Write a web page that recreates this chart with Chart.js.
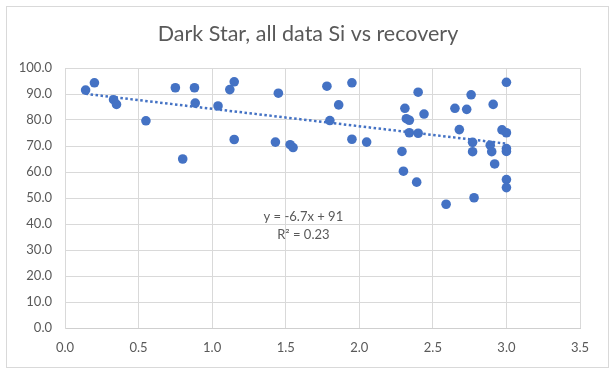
<!DOCTYPE html>
<html>
<head>
<meta charset="utf-8">
<script src="https://cdn.jsdelivr.net/npm/chart.js@4.4.0/dist/chart.umd.min.js"></script>
<style>
  html, body { margin: 0; padding: 0; background: #fff; }
  #wrap { position: relative; width: 615px; height: 372px; }
  #frame {
    position: absolute; left: 6px; top: 6px; width: 603px; height: 362px;
    border: 1px solid #d9d9d9; box-sizing: border-box; pointer-events: none;
  }
</style>
</head>
<body>
<div id="wrap">
  <canvas id="chart"></canvas>
  <div id="frame"></div>
</div>
<script>
  /* ===================== DATA ===================== */

  let siValues = [
    0.14, 0.20, 0.33, 0.35, 0.55, 0.75, 0.80, 0.88, 0.885, 1.04,
    1.12, 1.15, 1.15, 1.45, 1.43, 1.53, 1.55, 1.78, 1.95, 1.86,
    1.80, 1.95, 2.05, 2.31, 2.32, 2.34, 2.40, 2.44, 2.34, 2.40,
    2.29, 2.30, 2.39, 2.59, 3.00, 2.76, 2.65, 2.73, 2.91, 2.68,
    2.97, 3.00, 2.77, 2.77, 2.89, 2.90, 2.92, 3.00, 3.00, 3.00,
    3.00, 2.78
  ];

  let recoveryValues = [
    91.5, 94.3, 87.8, 86.0, 79.7, 92.4, 65.0, 92.4, 86.5, 85.4,
    91.7, 94.7, 72.5, 90.3, 71.5, 70.5, 69.4, 93.0, 94.3, 85.8,
    79.8, 72.6, 71.5, 84.5, 80.5, 79.9, 90.7, 82.3, 75.1, 74.9,
    67.9, 60.3, 56.1, 47.6, 94.5, 89.7, 84.5, 84.1, 86.0, 76.3,
    76.2, 75.1, 71.4, 67.8, 70.3, 67.8, 63.1, 69.0, 67.9, 57.1,
    54.0, 50.1
  ];

  let xTicks = [0, 0.5, 1, 1.5, 2, 2.5, 3, 3.5];
  let yTicks = [0, 10, 20, 30, 40, 50, 60, 70, 80, 90, 100];

  let chartTitle = 'Dark Star, all data Si vs recovery';

  // linear trendline as labelled on the chart
  let trendSlope = -6.7;
  let trendIntercept = 91;
  let trendR2 = 0.23;
  let trendRange = [0.14, 3.0];

  /* ==================== STYLE ==================== */

  let blue = '#4472c4';
  let textGray = '#595959';
  let gridGray = '#d9d9d9';
  let fontName = 'Lato, "Open Sans", sans-serif';

  let points = siValues.map((x, i) => ({ x, y: recoveryValues[i] }));
  let trend = trendRange.map(x => ({ x, y: trendSlope * x + trendIntercept }));

  // title centred on the whole frame (the built-in one centres on the padded box)
  let frameTitle = {
    id: 'frameTitle',
    afterDraw(chart) {
      let { ctx } = chart;
      ctx.save();
      ctx.fillStyle = textGray;
      ctx.font = `21.5px ${fontName}`;
      ctx.textAlign = 'center';
      ctx.textBaseline = 'middle';
      ctx.fillText(chartTitle, 308, 34);
      ctx.restore();
    }
  };

  // draws the trendline equation text inside the plot
  let equationLabel = {
    id: 'equationLabel',
    afterDatasetsDraw(chart) {
      let { ctx, scales: { x, y } } = chart;
      let px = x.getPixelForValue(1.62);
      let py = y.getPixelForValue(42.7);
      ctx.save();
      ctx.fillStyle = textGray;
      ctx.font = `13px ${fontName}`;
      ctx.textAlign = 'center';
      ctx.textBaseline = 'middle';
      ctx.fillText(`y = ${trendSlope}x + ${trendIntercept}`, px, py);
      ctx.fillText(`R² = ${trendR2}`, px, py + 18);
      ctx.restore();
    }
  };

  /* ==================== CHART ==================== */

  new Chart(document.getElementById('chart').getContext('2d'), {
    type: 'scatter',
    data: {
      datasets: [
        {
          label: 'Recovery',
          data: points,
          backgroundColor: blue,
          borderColor: blue,
          pointRadius: 4.8,
          pointBorderWidth: 0
        },
        {
          label: 'Linear',
          type: 'line',
          data: trend,
          borderColor: blue,
          borderWidth: 2.5,
          borderDash: [2.5, 2.5],
          pointRadius: 0,
          fill: false
        }
      ]
    },
    options: {
      responsive: true,
      maintainAspectRatio: false,
      animation: false,
      layout: { padding: { left: 0, right: 35, top: 68, bottom: 0 } },
      plugins: {
        legend: { display: false },
        tooltip: { enabled: false },
        title: { display: false }
      },
      scales: {
        x: {
          type: 'linear',
          min: 0,
          max: 3.5,
          afterBuildTicks: s => { s.ticks = xTicks.map(value => ({ value })); },
          afterFit: s => { s.height = 44; },
          ticks: {
            color: textGray,
            font: { family: fontName, size: 13 },
            padding: 12,
            callback: v => v.toFixed(1)
          },
          grid: { color: gridGray, drawTicks: false },
          border: { color: '#cfcfcf' }
        },
        y: {
          type: 'linear',
          min: 0,
          max: 100,
          afterBuildTicks: s => { s.ticks = yTicks.map(value => ({ value })); },
          afterFit: s => { s.width = 65; },
          ticks: {
            color: textGray,
            font: { family: fontName, size: 13 },
            padding: 13,
            callback: v => v.toFixed(1)
          },
          grid: { color: gridGray, drawTicks: false },
          border: { color: gridGray }
        }
      }
    },
    plugins: [equationLabel, frameTitle]
  });
</script>
</body>
</html>
